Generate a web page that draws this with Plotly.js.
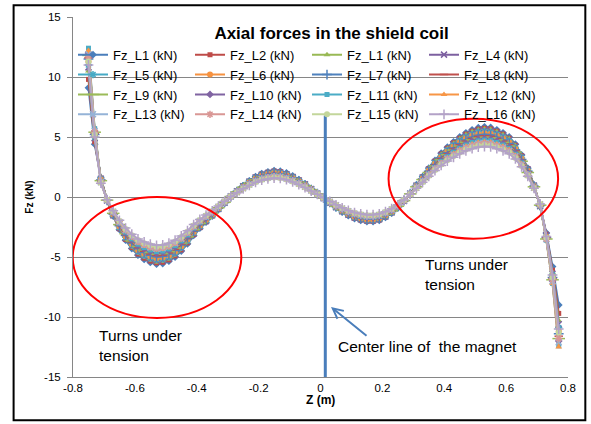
<!DOCTYPE html>
<html>
<head>
<meta charset="utf-8">
<script src="https://cdn.plot.ly/plotly-3.0.1.min.js"></script>
<style>
  html, body { margin: 0; padding: 0; background: #fff; }
  #chart { width: 591px; height: 424px; }
</style>
</head>
<body>
<div id="chart"></div>
<script>
// ---- data ----
const z = [-0.75,-0.73,-0.71,-0.69,-0.67,-0.65,-0.63,-0.61,-0.59,-0.57,-0.55,-0.53,-0.51,-0.49,-0.47,-0.45,-0.43,-0.41,-0.39,-0.37,-0.35,-0.33,-0.31,-0.29,-0.27,-0.25,-0.23,-0.21,-0.19,-0.17,-0.15,-0.13,-0.11,-0.09,-0.07,-0.05,-0.03,-0.01,0.01,0.03,0.05,0.07,0.09,0.11,0.13,0.15,0.17,0.19,0.21,0.23,0.25,0.27,0.29,0.31,0.33,0.35,0.37,0.39,0.41,0.43,0.45,0.47,0.49,0.51,0.53,0.55,0.57,0.59,0.61,0.63,0.65,0.67,0.69,0.71,0.73,0.75,0.77];

const fz_L1 = [9.1,4.4,1.6,-0.3,-1.6,-2.7,-3.6,-4.3,-4.85,-5.2,-5.45,-5.6,-5.55,-5.35,-5.0,-4.5,-3.9,-3.2,-2.6,-2.1,-1.6,-1.05,-0.5,0.05,0.5,0.95,1.35,1.7,1.95,2.1,2.2,2.15,2.0,1.75,1.45,1.1,0.7,0.3,-0.1,-0.5,-0.9,-1.25,-1.55,-1.8,-1.95,-2.05,-2.05,-1.95,-1.7,-1.35,-0.9,-0.35,0.3,1.0,1.7,2.4,3.05,3.65,4.15,4.6,5.0,5.35,5.6,5.78,5.85,5.8,5.6,5.35,5.0,4.4,3.5,2.4,1.0,-0.8,-3.0,-5.8,-9.0];
const fz_L2 = [9.8,4.6,1.57,-0.29,-1.57,-2.65,-3.53,-4.21,-4.75,-5.1,-5.34,-5.49,-5.44,-5.24,-4.9,-4.41,-3.82,-3.14,-2.55,-2.06,-1.57,-1.03,-0.49,0.05,0.49,0.93,1.32,1.67,1.91,2.06,2.16,2.11,1.96,1.72,1.42,1.08,0.69,0.29,-0.1,-0.49,-0.88,-1.23,-1.52,-1.76,-1.91,-2.01,-2.01,-1.91,-1.67,-1.32,-0.88,-0.34,0.29,0.98,1.67,2.35,2.99,3.58,4.07,4.51,4.9,5.24,5.49,5.66,5.73,5.68,5.49,5.24,4.9,4.31,3.43,2.35,0.98,-0.78,-3.1,-6.1,-9.7];
const fz_L3 = [10.5,4.8,1.55,-0.29,-1.55,-2.62,-3.49,-4.17,-4.7,-5.04,-5.29,-5.43,-5.38,-5.19,-4.85,-4.37,-3.78,-3.1,-2.52,-2.04,-1.55,-1.02,-0.49,0.05,0.49,0.92,1.31,1.65,1.89,2.04,2.13,2.09,1.94,1.7,1.41,1.07,0.68,0.29,-0.1,-0.49,-0.87,-1.21,-1.5,-1.75,-1.89,-1.99,-1.99,-1.89,-1.65,-1.31,-0.87,-0.34,0.29,0.97,1.65,2.33,2.96,3.54,4.03,4.46,4.85,5.19,5.43,5.61,5.67,5.63,5.43,5.19,4.85,4.27,3.4,2.33,0.97,-0.78,-3.2,-6.3,-10.3];
const fz_L4 = [10.8,4.9,1.52,-0.29,-1.52,-2.57,-3.42,-4.09,-4.61,-4.94,-5.18,-5.32,-5.27,-5.08,-4.75,-4.28,-3.71,-3.04,-2.47,-2.0,-1.52,-1.0,-0.48,0.05,0.48,0.9,1.28,1.62,1.85,2.0,2.09,2.04,1.9,1.66,1.38,1.05,0.67,0.29,-0.1,-0.48,-0.86,-1.19,-1.47,-1.71,-1.85,-1.95,-1.95,-1.85,-1.62,-1.28,-0.86,-0.33,0.29,0.95,1.62,2.28,2.9,3.47,3.94,4.37,4.75,5.08,5.32,5.49,5.56,5.51,5.32,5.08,4.75,4.18,3.33,2.28,0.95,-0.76,-3.2,-6.4,-10.6];
const fz_L5 = [11.0,5.0,1.49,-0.28,-1.49,-2.51,-3.35,-4.0,-4.51,-4.84,-5.07,-5.21,-5.16,-4.98,-4.65,-4.19,-3.63,-2.98,-2.42,-1.95,-1.49,-0.98,-0.47,0.05,0.47,0.88,1.26,1.58,1.81,1.95,2.05,2.0,1.86,1.63,1.35,1.02,0.65,0.28,-0.09,-0.47,-0.84,-1.16,-1.44,-1.67,-1.81,-1.91,-1.91,-1.81,-1.58,-1.26,-0.84,-0.33,0.28,0.93,1.58,2.23,2.84,3.39,3.86,4.28,4.65,4.98,5.21,5.38,5.44,5.39,5.21,4.98,4.65,4.09,3.26,2.23,0.93,-0.74,-3.3,-6.5,-10.9];
const fz_L6 = [11.3,5.1,1.46,-0.27,-1.46,-2.46,-3.28,-3.91,-4.41,-4.73,-4.96,-5.1,-5.05,-4.87,-4.55,-4.1,-3.55,-2.91,-2.37,-1.91,-1.46,-0.96,-0.46,0.05,0.46,0.86,1.23,1.55,1.77,1.91,2.0,1.96,1.82,1.59,1.32,1.0,0.64,0.27,-0.09,-0.46,-0.82,-1.14,-1.41,-1.64,-1.77,-1.87,-1.87,-1.77,-1.55,-1.23,-0.82,-0.32,0.27,0.91,1.55,2.18,2.78,3.32,3.78,4.19,4.55,4.87,5.1,5.26,5.32,5.28,5.1,4.87,4.55,4.0,3.19,2.18,0.91,-0.73,-3.3,-6.6,-11.2];
const fz_L7 = [11.5,5.2,1.42,-0.27,-1.42,-2.4,-3.2,-3.83,-4.32,-4.63,-4.85,-4.98,-4.94,-4.76,-4.45,-4.0,-3.47,-2.85,-2.31,-1.87,-1.42,-0.93,-0.45,0.04,0.45,0.85,1.2,1.51,1.74,1.87,1.96,1.91,1.78,1.56,1.29,0.98,0.62,0.27,-0.09,-0.45,-0.8,-1.11,-1.38,-1.6,-1.74,-1.82,-1.82,-1.74,-1.51,-1.2,-0.8,-0.31,0.27,0.89,1.51,2.14,2.71,3.25,3.69,4.09,4.45,4.76,4.98,5.14,5.21,5.16,4.98,4.76,4.45,3.92,3.12,2.14,0.89,-0.71,-3.4,-6.7,-11.4];
const fz_L8 = [11.6,5.3,1.39,-0.26,-1.39,-2.35,-3.13,-3.74,-4.22,-4.52,-4.74,-4.87,-4.83,-4.65,-4.35,-3.92,-3.39,-2.78,-2.26,-1.83,-1.39,-0.91,-0.44,0.04,0.44,0.83,1.17,1.48,1.7,1.83,1.91,1.87,1.74,1.52,1.26,0.96,0.61,0.26,-0.09,-0.44,-0.78,-1.09,-1.35,-1.57,-1.7,-1.78,-1.78,-1.7,-1.48,-1.17,-0.78,-0.3,0.26,0.87,1.48,2.09,2.65,3.18,3.61,4.0,4.35,4.65,4.87,5.03,5.09,5.05,4.87,4.65,4.35,3.83,3.05,2.09,0.87,-0.7,-3.4,-6.8,-11.6];
const fz_L9 = [11.8,5.4,1.36,-0.26,-1.36,-2.3,-3.06,-3.66,-4.12,-4.42,-4.63,-4.76,-4.72,-4.55,-4.25,-3.83,-3.32,-2.72,-2.21,-1.79,-1.36,-0.89,-0.43,0.04,0.43,0.81,1.15,1.45,1.66,1.79,1.87,1.83,1.7,1.49,1.23,0.94,0.6,0.26,-0.09,-0.43,-0.77,-1.06,-1.32,-1.53,-1.66,-1.74,-1.74,-1.66,-1.45,-1.15,-0.77,-0.3,0.26,0.85,1.45,2.04,2.59,3.1,3.53,3.91,4.25,4.55,4.76,4.91,4.97,4.93,4.76,4.55,4.25,3.74,2.98,2.04,0.85,-0.68,-3.5,-6.9,-11.8];
const fz_L10 = [12.0,5.5,1.33,-0.25,-1.33,-2.24,-2.99,-3.57,-4.03,-4.32,-4.52,-4.65,-4.61,-4.44,-4.15,-3.74,-3.24,-2.66,-2.16,-1.74,-1.33,-0.87,-0.42,0.04,0.42,0.79,1.12,1.41,1.62,1.74,1.83,1.78,1.66,1.45,1.2,0.91,0.58,0.25,-0.08,-0.42,-0.75,-1.04,-1.29,-1.49,-1.62,-1.7,-1.7,-1.62,-1.41,-1.12,-0.75,-0.29,0.25,0.83,1.41,1.99,2.53,3.03,3.44,3.82,4.15,4.44,4.65,4.8,4.86,4.81,4.65,4.44,4.15,3.65,2.91,1.99,0.83,-0.66,-3.5,-7.0,-12.0];
const fz_L11 = [12.4,5.7,1.3,-0.24,-1.3,-2.19,-2.92,-3.48,-3.93,-4.21,-4.41,-4.54,-4.5,-4.33,-4.05,-3.65,-3.16,-2.59,-2.11,-1.7,-1.3,-0.85,-0.41,0.04,0.41,0.77,1.09,1.38,1.58,1.7,1.78,1.74,1.62,1.42,1.17,0.89,0.57,0.24,-0.08,-0.41,-0.73,-1.01,-1.26,-1.46,-1.58,-1.66,-1.66,-1.58,-1.38,-1.09,-0.73,-0.28,0.24,0.81,1.38,1.94,2.47,2.96,3.36,3.73,4.05,4.33,4.54,4.68,4.74,4.7,4.54,4.33,4.05,3.56,2.84,1.94,0.81,-0.65,-3.6,-7.2,-12.4];
const fz_L12 = [12.2,5.6,1.26,-0.24,-1.26,-2.13,-2.84,-3.4,-3.83,-4.11,-4.31,-4.42,-4.38,-4.23,-3.95,-3.56,-3.08,-2.53,-2.05,-1.66,-1.26,-0.83,-0.4,0.04,0.4,0.75,1.07,1.34,1.54,1.66,1.74,1.7,1.58,1.38,1.15,0.87,0.55,0.24,-0.08,-0.4,-0.71,-0.99,-1.22,-1.42,-1.54,-1.62,-1.62,-1.54,-1.34,-1.07,-0.71,-0.28,0.24,0.79,1.34,1.9,2.41,2.88,3.28,3.63,3.95,4.23,4.42,4.57,4.62,4.58,4.42,4.23,3.95,3.48,2.77,1.9,0.79,-0.63,-3.6,-7.2,-12.5];
const fz_L13 = [11.9,5.5,1.23,-0.23,-1.23,-2.08,-2.77,-3.31,-3.73,-4.0,-4.2,-4.31,-4.27,-4.12,-3.85,-3.47,-3.0,-2.46,-2.0,-1.62,-1.23,-0.81,-0.39,0.04,0.39,0.73,1.04,1.31,1.5,1.62,1.69,1.66,1.54,1.35,1.12,0.85,0.54,0.23,-0.08,-0.39,-0.69,-0.96,-1.19,-1.39,-1.5,-1.58,-1.58,-1.5,-1.31,-1.04,-0.69,-0.27,0.23,0.77,1.31,1.85,2.35,2.81,3.2,3.54,3.85,4.12,4.31,4.45,4.5,4.47,4.31,4.12,3.85,3.39,2.7,1.85,0.77,-0.62,-3.5,-7.0,-12.1];
const fz_L14 = [11.7,5.4,1.22,-0.23,-1.22,-2.05,-2.74,-3.27,-3.69,-3.95,-4.14,-4.26,-4.22,-4.07,-3.8,-3.42,-2.96,-2.43,-1.98,-1.6,-1.22,-0.8,-0.38,0.04,0.38,0.72,1.03,1.29,1.48,1.6,1.67,1.63,1.52,1.33,1.1,0.84,0.53,0.23,-0.08,-0.38,-0.68,-0.95,-1.18,-1.37,-1.48,-1.56,-1.56,-1.48,-1.29,-1.03,-0.68,-0.27,0.23,0.76,1.29,1.82,2.32,2.77,3.15,3.5,3.8,4.07,4.26,4.39,4.45,4.41,4.26,4.07,3.8,3.34,2.66,1.82,0.76,-0.61,-3.5,-6.9,-11.8];
const fz_L15 = [11.3,5.2,1.18,-0.22,-1.18,-2.0,-2.66,-3.18,-3.59,-3.85,-4.03,-4.14,-4.11,-3.96,-3.7,-3.33,-2.89,-2.37,-1.92,-1.55,-1.18,-0.78,-0.37,0.04,0.37,0.7,1.0,1.26,1.44,1.55,1.63,1.59,1.48,1.3,1.07,0.81,0.52,0.22,-0.07,-0.37,-0.67,-0.93,-1.15,-1.33,-1.44,-1.52,-1.52,-1.44,-1.26,-1.0,-0.67,-0.26,0.22,0.74,1.26,1.78,2.26,2.7,3.07,3.4,3.7,3.96,4.14,4.28,4.33,4.29,4.14,3.96,3.7,3.26,2.59,1.78,0.74,-0.59,-3.4,-6.7,-11.3];
const fz_L16 = [11.0,5.0,1.15,-0.22,-1.15,-1.94,-2.59,-3.1,-3.49,-3.74,-3.92,-4.03,-4.0,-3.85,-3.6,-3.24,-2.81,-2.3,-1.87,-1.51,-1.15,-0.76,-0.36,0.04,0.36,0.68,0.97,1.22,1.4,1.51,1.58,1.55,1.44,1.26,1.04,0.79,0.5,0.22,-0.07,-0.36,-0.65,-0.9,-1.12,-1.3,-1.4,-1.48,-1.48,-1.4,-1.22,-0.97,-0.65,-0.25,0.22,0.72,1.22,1.73,2.2,2.63,2.99,3.31,3.6,3.85,4.03,4.16,4.21,4.18,4.03,3.85,3.6,3.17,2.52,1.73,0.72,-0.58,-3.3,-6.5,-11.0];

const seriesNames = ['Fz_L1 (kN)','Fz_L2 (kN)','Fz_L1 (kN)','Fz_L4 (kN)','Fz_L5 (kN)','Fz_L6 (kN)','Fz_L7 (kN)','Fz_L8 (kN)','Fz_L9 (kN)','Fz_L10 (kN)','Fz_L11 (kN)','Fz_L12 (kN)','Fz_L13 (kN)','Fz_L14 (kN)','Fz_L15 (kN)','Fz_L16 (kN)'];
const seriesValues = [fz_L1,fz_L2,fz_L3,fz_L4,fz_L5,fz_L6,fz_L7,fz_L8,fz_L9,fz_L10,fz_L11,fz_L12,fz_L13,fz_L14,fz_L15,fz_L16];

const xTickVals = [-0.8,-0.6,-0.4,-0.2,0,0.2,0.4,0.6,0.8];
const xTickText = ['-0.8','-0.6','-0.4','-0.2','0','0.2','0.4','0.6','0.8'];
const yTickVals = [-15,-10,-5,0,5,10,15];
const yTickText = ['-15','-10','-5','0','5','10','15'];

// ---- styles ----
const colors = ['#4A7EBB','#BE4B48','#98B954','#7D60A0','#46AAC5','#F69240','#4F81BD','#C0504D','#9BBB59','#8064A2','#4BACC6','#F79646','#95B3D7','#D99795','#C3D69B','#B3A2C7'];
const symbols = ['diamond','square','triangle-up','x-thin-open','asterisk-open','circle','cross-thin-open','line-ew-open','line-ew-open','diamond','square','triangle-up','x-thin-open','asterisk-open','circle','cross-thin-open'];
const msizes = [6,5,6,6,6,6,7,6,9,6,5,6,6,6,6,7];
const FONT = 'Liberation Sans, Arial, sans-serif';

const traces = seriesValues.map((vals, i) => ({
  type: 'scatter',
  mode: 'lines+markers',
  x: z,
  y: vals,
  name: seriesNames[i],
  line: { color: colors[i], width: 2 },
  marker: { symbol: symbols[i], size: msizes[i], color: colors[i],
            line: { color: colors[i], width: symbols[i].indexOf('open') >= 0 ? 1.5 : 0 } }
}));

const layout = {
  width: 591, height: 424,
  margin: { l: 73, r: 23, t: 17, b: 47, pad: 0 },
  paper_bgcolor: '#ffffff', plot_bgcolor: '#ffffff',
  font: { family: FONT, color: '#000000' },
  title: { text: '<b>Axial forces in the shield coil</b>', font: { size: 17, family: FONT, color: '#000' },
           x: 0.561, xanchor: 'center', xref: 'container', y: 0.922, yanchor: 'middle', yref: 'container' },
  showlegend: true,
  legend: { orientation: 'h', x: 0.0, xanchor: 'left', y: 0.937, yanchor: 'top',
            bgcolor: 'rgba(0,0,0,0)', borderwidth: 0,
            entrywidth: 72, entrywidthmode: 'pixels',
            font: { size: 13, family: FONT, color: '#000' }, traceorder: 'normal' },
  xaxis: { range: [-0.8, 0.8], tickvals: xTickVals, ticktext: xTickText,
           showgrid: false, zeroline: false, showline: true, linecolor: '#868686', linewidth: 1,
           ticks: '', tickfont: { size: 11.5, family: FONT, color: '#000' } },
  yaxis: { range: [-15, 15], tickvals: yTickVals, ticktext: yTickText,
           showgrid: true, gridcolor: '#868686', gridwidth: 1, zeroline: false,
           showline: true, linecolor: '#868686', linewidth: 1,
           ticks: 'outside', ticklen: 5, tickcolor: '#868686', ticklabelstandoff: 4,
           tickfont: { size: 11.5, family: FONT, color: '#000' },
           title: { text: '<b>Fz (kN)</b>', font: { size: 10, family: FONT, color: '#000' }, standoff: 8 } },
  shapes: [
    { type: 'circle', xref: 'x', yref: 'y', x0: -0.801, x1: -0.256, y0: -10.08, y1: 0.0,
      line: { color: '#FF0000', width: 2 }, fillcolor: 'rgba(0,0,0,0)' },
    { type: 'circle', xref: 'x', yref: 'y', x0: 0.220, x1: 0.768, y0: -3.47, y1: 6.53,
      line: { color: '#FF0000', width: 2 }, fillcolor: 'rgba(0,0,0,0)' },
    { type: 'line', xref: 'x', yref: 'y', x0: 0.0155, x1: 0.0155, y0: 6.8, y1: -15,
      line: { color: '#4A7EBB', width: 3 } },
    { type: 'rect', xref: 'paper', yref: 'paper', x0: -0.12, x1: 1.035, y0: -0.12, y1: 1.0325,
      line: { color: '#000000', width: 2 }, fillcolor: 'rgba(0,0,0,0)', layer: 'above' }
  ],
  annotations: [
    { text: '<b>Z (m)</b>', xref: 'paper', yref: 'paper', x: 0.5, y: -0.064,
      xanchor: 'center', yanchor: 'middle', showarrow: false,
      font: { size: 12, family: FONT, color: '#000' } },
    { text: 'Turns under<br>tension', xref: 'x', yref: 'y', x: -0.7215, y: -12.36,
      xanchor: 'left', yanchor: 'middle', align: 'left', showarrow: false,
      font: { size: 15.5, family: FONT, color: '#000' } },
    { text: 'Turns under<br>tension', xref: 'x', yref: 'y', x: 0.332, y: -6.48,
      xanchor: 'left', yanchor: 'middle', align: 'left', showarrow: false,
      font: { size: 15.5, family: FONT, color: '#000' } },
    { text: 'Center line of\u00a0 the magnet', xref: 'x', yref: 'y', x: 0.051, y: -12.44,
      xanchor: 'left', yanchor: 'middle', align: 'left', showarrow: false,
      font: { size: 15.5, family: FONT, color: '#000' } },
    { text: '', xref: 'x', yref: 'y', x: 0.034, y: -9.17, ax: 37, ay: 30,
      showarrow: true, arrowhead: 5, arrowsize: 1, arrowwidth: 2, arrowcolor: '#4A7EBB', standoff: 0 }
  ]
};

Plotly.newPlot('chart', traces, layout, { displayModeBar: false, staticPlot: true });
</script>
</body>
</html>
